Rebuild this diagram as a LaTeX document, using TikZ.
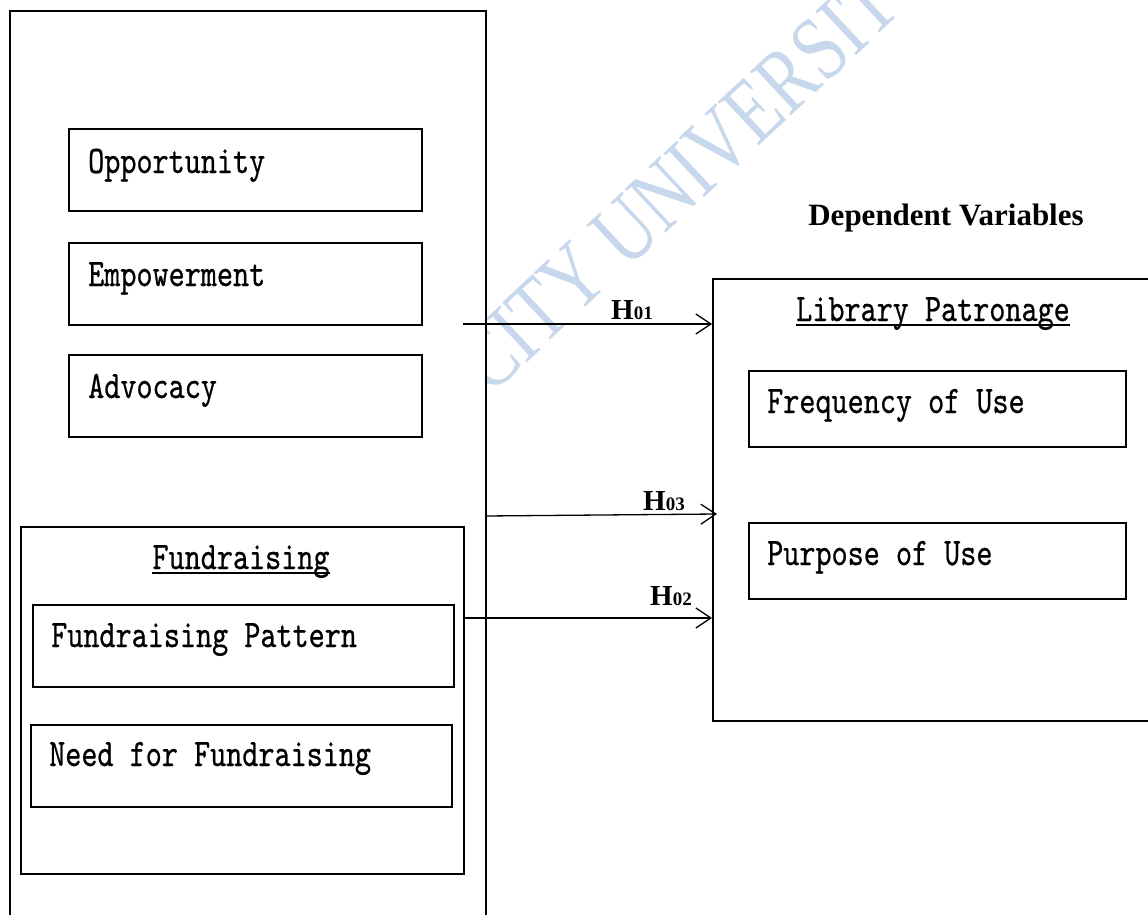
\documentclass[tikz,border=0pt]{standalone}
\usepackage{fontspec}
\setmainfont{Liberation Serif}
\newfontfamily\simmono{lmmono10-regular.otf}[FakeStretch=0.786,FakeBold=0.6]
\usetikzlibrary{arrows.meta}
\definecolor{wmblue}{RGB}{200,216,236}
\begin{document}
\begin{tikzpicture}[x=1pt,y=-1pt,
  box/.style={draw, line width=2.2pt, inner sep=0pt, anchor=north west},
  mono/.style={font=\simmono\fontsize{39}{39}\selectfont, inner sep=0pt, anchor=base west},
  title/.style={font=\simmono\fontsize{39}{39}\selectfont, inner sep=0pt, anchor=base},
  conn/.style={line width=1.3pt, -{Straight Barb[length=15pt,width=20pt,line width=1.3pt]}},
  hlab/.style={inner sep=0pt, anchor=base west},
  wmark/.style={text=wmblue, font=\fontsize{72}{72}\selectfont, inner sep=0pt, anchor=base west, rotate=43}
]
\useasboundingbox (0,0) rectangle (1148,915);
\clip (0,0) rectangle (1148,915);

% watermark
\node[wmark] (wm) at (490,397) {\scalebox{1}[1.27]{CITY UNIVERSITY}};

% outer (independent) box
\node[box, fill=white, minimum width=476pt, minimum height=930pt] (outer) at (9,10) {};

\node[box, minimum width=353pt, minimum height=82pt] (opp) at (68,128) {};
\node[box, minimum width=353pt, minimum height=82pt] (emp) at (68,242) {};
\node[box, minimum width=353pt, minimum height=82pt] (adv) at (68,354) {};
\node[mono] (toppo) at (88,173) {Opportunity};
\node[mono] (tempo) at (88,286) {Empowerment};
\node[mono] (tadvo) at (88,398) {Advocacy};

\node[box, minimum width=443pt, minimum height=347pt] (fund) at (20,526) {};
\node[title] (tfund) at (241,569) {Fundraising};
\draw[line width=1.2pt] ([yshift=-4pt]tfund.base west) -- ([yshift=-4pt]tfund.base east);
\node[box, minimum width=421pt, minimum height=82pt] (fp) at (32,604) {};
\node[box, minimum width=421pt, minimum height=82pt] (nf) at (30,724) {};
\node[mono] (tfp) at (51,647) {Fundraising Pattern};
\node[mono] (tnf) at (49,766) {Need for Fundraising};

% dependent side
\node[font=\bfseries\fontsize{31}{31}\selectfont, inner sep=0pt, anchor=base] (dv) at (946,225) {Dependent Variables};
\node[box, minimum width=445pt, minimum height=442pt] (lp) at (712,278) {};
\node[title] (tlp) at (933,321) {Library Patronage};
\draw[line width=1.2pt] ([yshift=-4pt]tlp.base west) -- ([yshift=-4pt]tlp.base east);
\node[box, minimum width=377pt, minimum height=76pt] (fu) at (748,370) {};
\node[box, minimum width=377pt, minimum height=76pt] (pu) at (748,522) {};
\node[mono] (tfu) at (767,413) {Frequency of Use};
\node[mono] (tpu) at (767,565) {Purpose of Use};

% connectors
\coordinate (a1s) at (463,324);
\draw[conn] (a1s) -- (a1s -| lp.west);
\coordinate (a3s) at (485,516);
\coordinate (a3e) at (717,514);
\draw[conn] (a3s) -- (a3e);
\coordinate (a2s) at (465,618);
\draw[conn] (a2s) -- (a2s -| lp.west);

\node[hlab] (h1) at (611,319.5) {\bfseries\fontsize{29}{29}\selectfont H\fontsize{19}{19}\selectfont 01};
\node[hlab] (h3) at (643,510) {\bfseries\fontsize{29}{29}\selectfont H\fontsize{19}{19}\selectfont 03};
\node[hlab] (h2) at (650,605) {\bfseries\fontsize{29}{29}\selectfont H\fontsize{19}{19}\selectfont 02};
\end{tikzpicture}
\end{document}
